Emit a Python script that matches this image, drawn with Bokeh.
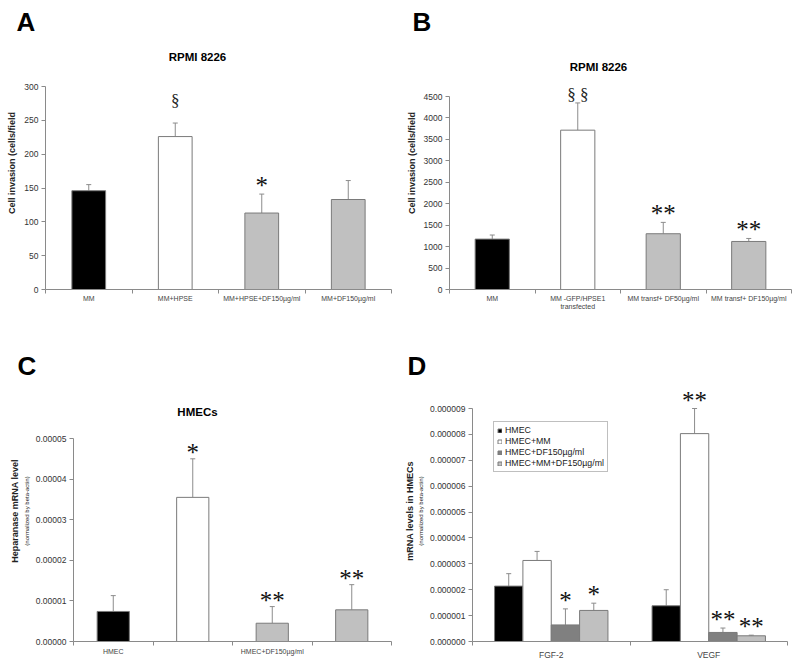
import numpy as np
from bokeh.plotting import figure
from bokeh.models import (Range1d, FixedTicker, SingleIntervalTicker, NumeralTickFormatter,
                          Whisker, TeeHead, ColumnDataSource, LabelSet, Label, LinearAxis,
                          Legend, LegendItem)
from bokeh.layouts import column, row
from bokeh.embed import file_html
from bokeh.resources import INLINE

FONT = "Liberation Sans"
SERIF = "Liberation Serif"
AXIS_GREY = "#8a8a8a"
ERR_GREY = "#8c8c8c"
TXT = "#333333"

# ---------------- data ----------------
# Panel A
a_title = "RPMI 8226"
a_labels = ["MM", "MM+HPSE", "MM+HPSE+DF150µg/ml", "MM+DF150µg/ml"]
a_values = [146, 226, 113, 133]
a_sd = [9, 20, 28, 28]
a_marks = ["", "§", "*", ""]
a_colors = ["black", "white", "#c0c0c0", "#c0c0c0"]
a_ylabel = "Cell invasion (cells/field"
a_ymax = 300
a_ystep = 50

# Panel B
b_title = "RPMI 8226"
b_labels = ["MM", "MM -GFP/HPSE1\ntransfected", "MM transf+ DF50µg/ml", "MM transf+ DF150µg/ml"]
b_values = [1175, 3715, 1300, 1120]
b_sd = [95, 635, 265, 70]
b_marks = ["", "§ §", "**", "**"]
b_colors = ["black", "white", "#c0c0c0", "#c0c0c0"]
b_ylabel = "Cell invasion (cells/field"
b_ymax = 4500
b_ystep = 500

# Panel C
c_title = "HMECs"
c_categories = ["HMEC", "HMEC+MM", "HMEC+DF150µg/ml", "HMEC+MM+DF150µg/ml"]
c_tick_labels = ["HMEC", "", "HMEC+DF150µg/ml", ""]
c_values = [7.4e-6, 3.55e-5, 4.5e-6, 7.8e-6]
c_sd = [3.9e-6, 9.5e-6, 4.1e-6, 6.2e-6]
c_marks = ["", "*", "**", "**"]
c_colors = ["black", "white", "#c0c0c0", "#c0c0c0"]
c_ylabel = "Heparanase mRNA level"
c_ylabel2 = "(normalized by beta-actin)"
c_ymax = 0.00005
c_ystep = 0.00001

# Panel D
d_groups = ["FGF-2", "VEGF"]
d_series = ["HMEC", "HMEC+MM", "HMEC+DF150µg/ml", "HMEC+MM+DF150µg/ml"]
d_values = [[2.14e-6, 1.38e-6], [3.13e-6, 8.03e-6], [0.64e-6, 0.35e-6], [1.20e-6, 0.22e-6]]
d_sd = [[0.48e-6, 0.62e-6], [0.35e-6, 0.97e-6], [0.62e-6, 0.17e-6], [0.28e-6, 0.025e-6]]
d_marks = [["", ""], ["", "**"], ["*", "**"], ["*", "**"]]
d_colors = ["black", "white", "#808080", "#c0c0c0"]
d_ylabel = "mRNA levels in HMECs"
d_ylabel2 = "(normalized by beta-actin)"
d_ymax = 0.000009
d_ystep = 0.000001

W = 400
H1, H2 = 330, 334


class Panel:
    """Figure whose frame spans from T (top) to H-B; the y axis only covers 0..ymax,
    which sits at figure pixel row `ytop`."""

    def __init__(self, letter, H, L, R, T, B, ytop, ymax, n):
        self.H = H
        self.L, self.R, self.T, self.B = L, R, T, B
        self.fw = W - L - R
        self.fh = H - T - B
        self.n = n
        self.ymax = ymax
        # extend the range above ymax so that titles/marks lie inside the frame
        self.yend = ymax * self.fh / (H - B - ytop)
        p = figure(frame_width=self.fw, frame_height=self.fh,
                   output_backend="svg", toolbar_location=None,
                   min_border_left=L, min_border_right=R,
                   min_border_top=T, min_border_bottom=B,
                   x_range=Range1d(0, n), y_range=Range1d(0, self.yend),
                   title=letter)
        p.outline_line_color = None
        p.xgrid.visible = False
        p.ygrid.visible = False
        p.title.text_font = FONT
        p.title.text_font_size = "26px"
        p.title.text_font_style = "bold"
        p.title.text_color = "black"
        p.title.align = "left"
        p.title.standoff = 0
        self.p = p

    def dx(self, fx):
        return (fx - self.L) / self.fw * self.n

    def dy(self, fy):
        return (self.H - self.B - fy) / self.fh * self.yend


def style_y(P, step, fmt, label, label_size="9px", bold=True):
    ax = P.p.yaxis[0]
    ax.ticker = SingleIntervalTicker(interval=step, num_minor_ticks=0)
    ax.bounds = (0, P.ymax)
    if fmt:
        ax.formatter = NumeralTickFormatter(format=fmt)
    ax.axis_line_color = AXIS_GREY
    ax.major_tick_line_color = AXIS_GREY
    ax.minor_tick_line_color = None
    ax.major_tick_out = 4
    ax.major_tick_in = 0
    ax.major_label_text_font = FONT
    ax.major_label_text_font_size = "8.5px"
    ax.major_label_text_color = TXT
    ax.major_label_standoff = 3
    ax.axis_label = label
    ax.axis_label_text_font = FONT
    ax.axis_label_text_font_size = label_size
    ax.axis_label_text_font_style = "bold" if bold else "normal"
    ax.axis_label_text_color = "#222222"
    ax.axis_label_standoff = 4


def style_x(P, labels, font_size="7px", standoff=1):
    n = P.n
    centers = [i + 0.5 for i in range(n)]
    bounds = [float(i) for i in range(n + 1)]
    ax = P.p.xaxis[0]
    ax.ticker = FixedTicker(ticks=centers, minor_ticks=bounds)
    ax.major_label_overrides = {c: l for c, l in zip(centers, labels)}
    ax.axis_line_color = AXIS_GREY
    ax.major_tick_line_color = None
    ax.major_tick_out = 0
    ax.major_tick_in = 0
    ax.minor_tick_line_color = AXIS_GREY
    ax.minor_tick_out = 4
    ax.minor_tick_in = 0
    ax.major_label_text_font = FONT
    ax.major_label_text_font_size = font_size
    ax.major_label_text_color = "#444444"
    ax.major_label_standoff = standoff


def add_bars(p, xs, vals, sds, colors, width, outline="#7a7a7a"):
    src = ColumnDataSource(dict(x=xs, top=vals, upper=[v + s for v, s in zip(vals, sds)],
                                color=colors))
    r = p.vbar(x="x", top="top", width=width, bottom=0, source=src,
               fill_color="color", line_color=outline, line_width=1)
    w = Whisker(base="x", lower="top", upper="upper", source=src,
                line_color=ERR_GREY, line_width=1,
                upper_head=TeeHead(size=5, line_color=ERR_GREY, line_width=1),
                lower_head=None)
    p.add_layout(w)
    return r


def annotate(p, xs, vals, sds, marks, sect_off, star_off):
    tops = [v + s for v, s in zip(vals, sds)]
    sel_s = [i for i, m in enumerate(marks) if "§" in m]
    sel_a = [i for i, m in enumerate(marks) if "*" in m]
    if sel_s:
        src = ColumnDataSource(dict(x=[xs[i] for i in sel_s], y=[tops[i] for i in sel_s],
                                    t=[marks[i] for i in sel_s]))
        p.add_layout(LabelSet(x="x", y="y", text="t", source=src,
                              text_font=SERIF, text_font_size="17px", text_color="#222222",
                              text_align="center", text_baseline="alphabetic", y_offset=sect_off))
    if sel_a:
        src = ColumnDataSource(dict(x=[xs[i] for i in sel_a], y=[tops[i] for i in sel_a],
                                    t=[marks[i] for i in sel_a]))
        p.add_layout(LabelSet(x="x", y="y", text="t", source=src,
                              text_font=FONT, text_font_size="25px", text_color="#111111",
                              text_align="center", text_baseline="alphabetic", y_offset=star_off))


def add_title(P, text, fx, fy):
    P.p.add_layout(Label(x=P.dx(fx), y=P.dy(fy), text=text, text_font=FONT,
                         text_font_size="11.5px", text_font_style="bold",
                         text_align="center", text_baseline="alphabetic", text_color="black"))


def add_outer_label(p, text):
    ax2 = LinearAxis(axis_label=text, ticker=FixedTicker(ticks=[]),
                     axis_line_color=None, major_tick_line_color=None,
                     minor_tick_line_color=None, major_tick_out=0, minor_tick_out=0,
                     major_label_standoff=0, major_label_text_font_size="0px",
                     axis_label_standoff=1, axis_label_text_font=FONT,
                     axis_label_text_font_size="9px", axis_label_text_font_style="bold",
                     axis_label_text_color="#222222")
    p.add_layout(ax2, "left")


# ---------------- Panel A ----------------
PA = Panel("A", H1, 45, 9, 36, 41, 86, a_ymax, len(a_values))
PA.p.title.offset = 16 - 45
style_x(PA, a_labels)
style_y(PA, a_ystep, None, a_ylabel)
xa = [i + 0.5 for i in range(len(a_values))]
add_bars(PA.p, xa, a_values, a_sd, a_colors, 0.39)
annotate(PA.p, xa, a_values, a_sd, a_marks, 17, 0)
add_title(PA, a_title, 197, 56)

# ---------------- Panel B ----------------
PB = Panel("B", H1, 49, 9, 36, 41, 96, b_ymax, len(b_values))
PB.p.title.offset = 12 - 49
style_x(PB, b_labels)
style_y(PB, b_ystep, None, b_ylabel)
xb = [i + 0.5 for i in range(len(b_values))]
add_bars(PB.p, xb, b_values, b_sd, b_colors, 0.4)
annotate(PB.p, xb, b_values, b_sd, b_marks, 3, 0)
add_title(PB, b_title, 198, 66)

# ---------------- Panel C ----------------
PC = Panel("C", H2, 73, 9, 50, 23, 108, c_ymax, len(c_categories))
PC.p.title.offset = 17 - 73
style_x(PC, c_tick_labels, standoff=2)
style_y(PC, c_ystep, "0.00000", c_ylabel2, label_size="6px", bold=False)
PC.p.yaxis[0].axis_label_standoff = 3
add_outer_label(PC.p, c_ylabel)
xc = [i + 0.5 for i in range(len(c_values))]
add_bars(PC.p, xc, c_values, c_sd, c_colors, 0.405)
annotate(PC.p, xc, c_values, c_sd, c_marks, 5, -2)
add_title(PC, c_title, 197, 81)

# ---------------- Panel D ----------------
PD = Panel("D", H2, 72, 13, 50, 23, 78, d_ymax, len(d_groups))
PD.p.title.offset = 7 - 72
style_x(PD, d_groups, font_size="8.5px", standoff=4)
style_y(PD, d_ystep, "0.000000", d_ylabel2, label_size="6px", bold=False)
PD.p.yaxis[0].axis_label_standoff = 3
add_outer_label(PD.p, d_ylabel)
offsets = [-0.27, -0.09, 0.09, 0.27]
items = []
for k, name in enumerate(d_series):
    xs = [g + 0.5 + offsets[k] for g in range(len(d_groups))]
    r = add_bars(PD.p, xs, d_values[k], d_sd[k], [d_colors[k]] * len(d_groups), 0.18)
    annotate(PD.p, xs, d_values[k], d_sd[k], d_marks[k], 5, 0)
    items.append(LegendItem(label=name, renderers=[r]))
legend = Legend(items=items, location=(21, 169), orientation="vertical",
                glyph_width=5, glyph_height=5, label_height=10, spacing=1,
                padding=3, margin=0, label_standoff=3,
                label_text_font=FONT, label_text_font_size="8.8px", label_text_color="#222222",
                border_line_color="#808080", border_line_width=1,
                background_fill_color="white", background_fill_alpha=1)
PD.p.add_layout(legend)

layout = column(row(PA.p, PB.p), row(PC.p, PD.p))
open("out.html", "w").write(file_html(layout, INLINE))
